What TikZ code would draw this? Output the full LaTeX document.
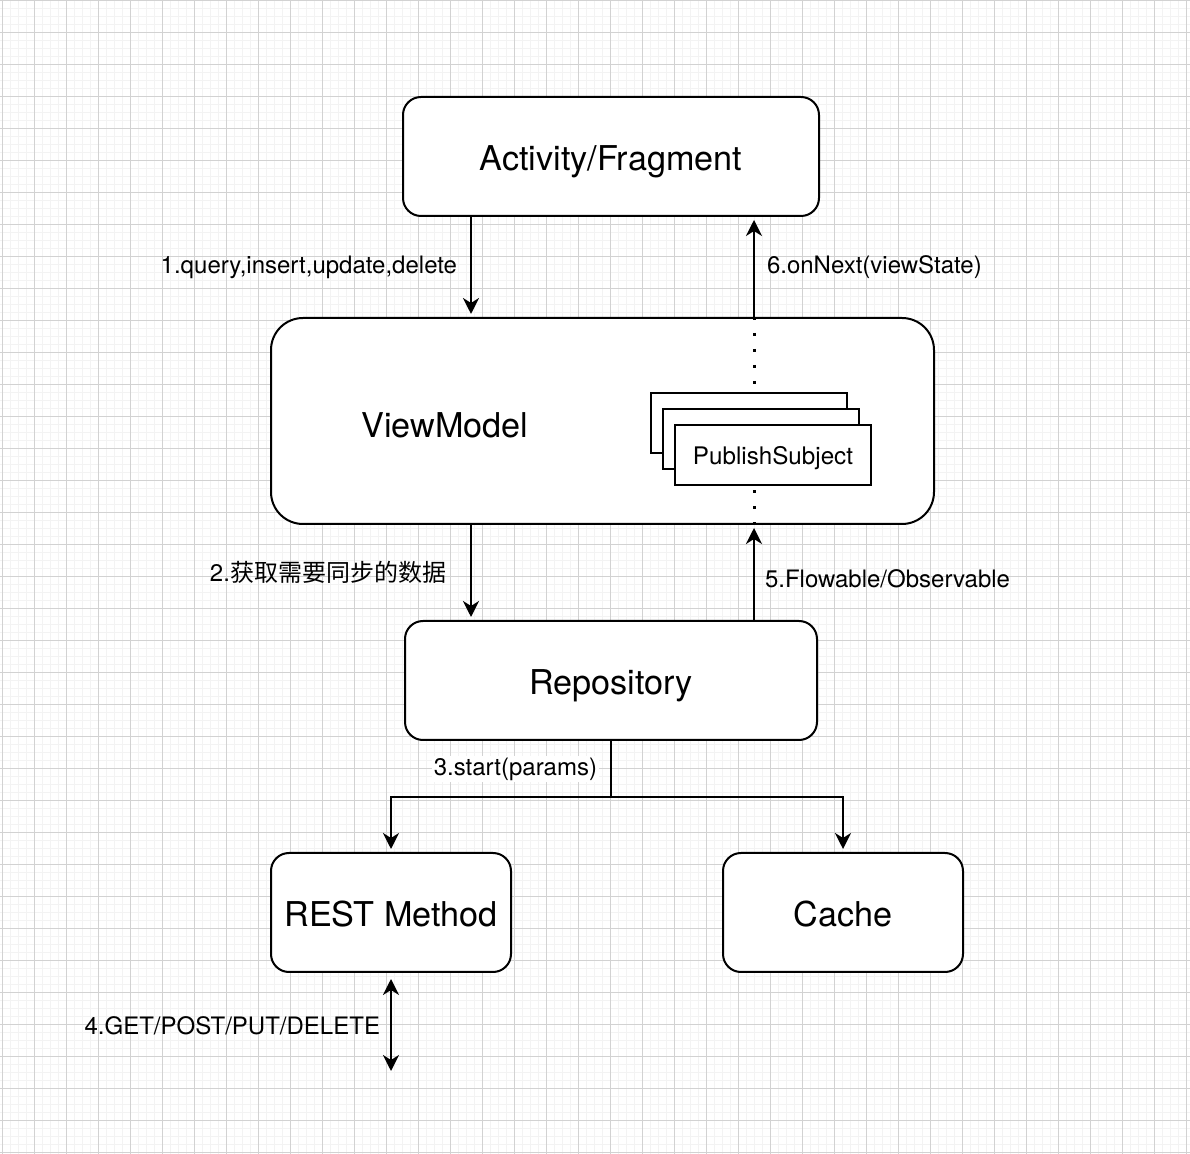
\documentclass[tikz,border=0pt]{standalone}
\usepackage{fontspec}
\setmainfont{TeX Gyre Heros}
\newfontfamily\cjk{Noto Sans CJK SC}
\usetikzlibrary{arrows.meta}
\definecolor{gridmajor}{RGB}{210,210,210}
\definecolor{gridminor}{RGB}{243,243,243}

\tikzset{
  box/.style={draw, line width=1pt, rounded corners=9pt, fill=white, inner sep=0pt,
    text height=14pt, text depth=0pt, font=\fontsize{17.1}{20}\selectfont},
  stack/.style={draw, line width=1pt, fill=white, minimum width=98pt, minimum height=30pt,
    inner sep=0pt, text height=10pt, text depth=0pt, font=\fontsize{12.1}{14}\selectfont},
  lbl/.style={inner sep=0pt, font=\fontsize{12}{14}\selectfont},
  arr/.style={line width=1pt, -{Stealth[length=8pt,width=8pt,inset=2.5pt]}, shorten >=1.5pt},
  dblarr/.style={line width=1pt, {Stealth[length=8pt,width=8pt,inset=2.5pt]}-{Stealth[length=8pt,width=8pt,inset=2.5pt]}},
  dots/.style={line width=1.5pt, dash pattern=on 1.5pt off 6.5pt},
}

\begin{document}
\begin{tikzpicture}[x=0.5pt, y=-0.5pt]
\useasboundingbox (0,0) rectangle (1190,1154);
% background grid
\fill[white] (0,0) rectangle (1190,1154);
\foreach \i in {0,...,148} \draw[gridminor, line width=0.6pt] (2.7+8*\i,0) -- (2.7+8*\i,1154);
\foreach \i in {0,...,144} \draw[gridminor, line width=0.6pt] (0,0.3+8*\i) -- (1190,0.3+8*\i);
\foreach \i in {0,...,37} \draw[gridmajor, line width=0.6pt] (2.7+32*\i,0) -- (2.7+32*\i,1154);
\foreach \i in {0,...,36} \draw[gridmajor, line width=0.6pt] (0,0.3+32*\i) -- (1190,0.3+32*\i);

% boxes
\node[box, minimum width=208pt, minimum height=59.5pt] (act) at (611,156.5) {Activity/Fragment};
\node[box, rounded corners=16pt, minimum width=331.5pt, minimum height=103pt] (vm) at (602.5,421) {};
\node[lbl, text height=14pt, text depth=0pt, font=\fontsize{17.1}{20}\selectfont] (vmtext) at (445,424) {ViewModel};
\node[stack] (ps3) at (749,423) {};
\node[stack] (ps2) at (761,439) {};
\node[stack] (ps) at (773,455) {PublishSubject};
\node[box, minimum width=206pt, minimum height=59.5pt] (repo) at (611,680.5) {Repository};
\node[box, minimum width=120pt, minimum height=59.5pt] (rest) at (391,912.5) {REST Method};
\node[box, minimum width=120pt, minimum height=59.5pt] (cache) at (843,912.5) {Cache};

\coordinate (lx) at (471,0);
\coordinate (rx) at (754,0);
\coordinate (bus) at (0,797);
\coordinate (net) at (391,1071);

% connectors
\draw[arr] (lx |- act.south) -- (lx |- vm.north)
  node[lbl, midway, left=6.5pt] {1.query,insert,update,delete};
\draw[arr] (rx |- vm.north) -- (rx |- act.south)
  node[lbl, midway, right=6pt] {6.onNext(viewState)};
\draw[dots] (rx |- vm.north) -- (rx |- ps3.north);
\draw[dots] (rx |- vm.south) -- (rx |- ps.south);
\draw[arr] (lx |- vm.south) -- (lx |- repo.north)
  node[lbl, midway, left=12pt] {2.{\cjk 获取需要同步的数据}};
\draw[arr] (rx |- repo.north) -- (rx |- vm.south)
  node[lbl, midway, right=5pt, yshift=-3pt] {5.Flowable/Observable};
\draw[arr] (repo.south) -- (repo.south |- bus)
  node[lbl, midway, left=5.5pt, fill=white, inner sep=1pt] {3.start(params)} -| (rest.north);
\draw[arr] (repo.south |- bus) -| (cache.north);
\draw[dblarr, shorten <=3pt] (rest.south) -- (net)
  node[lbl, midway, left=5pt, yshift=-2pt] {4.GET/POST/PUT/DELETE};
\end{tikzpicture}
\end{document}
